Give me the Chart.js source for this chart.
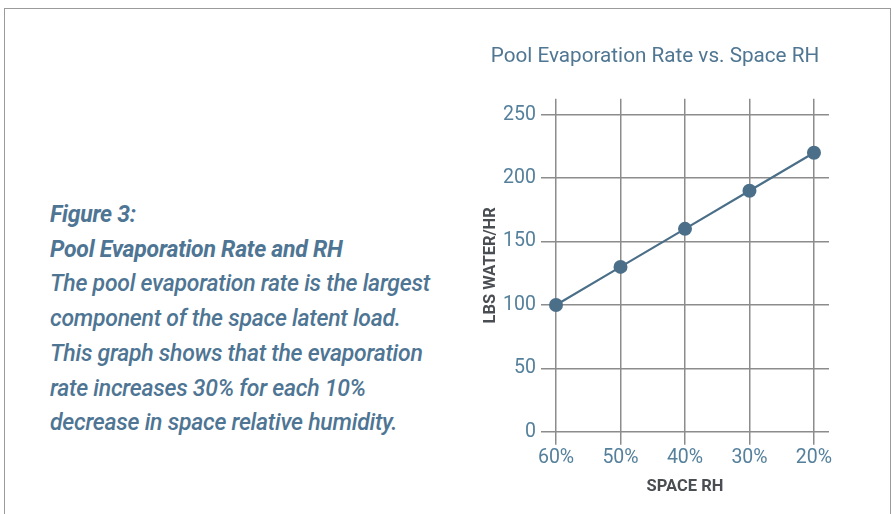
<!DOCTYPE html>
<html>
<head>
<meta charset="utf-8">
<script src="https://cdn.jsdelivr.net/npm/chart.js@4.4.1/dist/chart.umd.min.js"></script>
<style>
  html, body { margin: 0; padding: 0; background: #fff; }
  body { width: 893px; height: 514px; position: relative; overflow: hidden; font-family: Roboto, "Noto Sans", sans-serif; }
  .frame { position: absolute; left: 4px; top: 8px; width: 885px; height: 520px;
           border: 1.5px solid #9b9b9b; border-bottom: none; }
  .caption { position: absolute; left: 50px; top: 198px; color: #4e7593;
             font-style: italic; font-size: 23px; line-height: 34.7px; letter-spacing: -0.25px; }
  .caption b { font-weight: 700; }
  .caption span { font-weight: 500; }
  .wrap { position: absolute; left: 481px; top: 30px; width: 359px; height: 480px; }
</style>
</head>
<body>
<div class="frame"></div>
<div class="caption">
  <b>Figure 3:</b><br>
  <b>Pool Evaporation Rate and RH</b><br>
  <span>The pool evaporation rate is the largest<br>
  component of the space latent load.<br>
  This graph shows that the evaporation<br>
  rate increases 30% for each 10%<br>
  decrease in space relative humidity.</span>
</div>
<div class="wrap"><canvas id="chart"></canvas></div>
<script>
const spaceRH = [60, 50, 40, 30, 20]
const evapRate = [100, 130, 160, 190, 220]
const yTicks = [0, 50, 100, 150, 200, 250]

const blue = '#4b6f88'
const tickBlue = '#55809c'
const gridGray = '#8c8c8c'

const ctx = document.getElementById('chart')
const chartInstance = new Chart(ctx, {
  type: 'line',
  data: {
    datasets: [{
      label: 'Evaporation rate',
      data: spaceRH.map((rh, i) => ({ x: rh, y: evapRate[i] })),
      borderColor: blue,
      backgroundColor: blue,
      borderWidth: 2.2,
      pointRadius: 7,
      pointHoverRadius: 7,
      pointBorderWidth: 0
    }]
  },
  options: {
    responsive: true,
    maintainAspectRatio: false,
    animation: false,
    layout: { padding: { left: 0, right: 11, top: 0, bottom: 13 } },
    plugins: {
      legend: { display: false },
      tooltip: { enabled: false },
      title: {
        display: true,
        text: 'Pool Evaporation Rate vs. Space RH',
        color: '#4f7692',
        font: { family: 'Roboto', size: 20.7, weight: 'normal' },
        padding: { top: 14, bottom: 30 }
      }
    },
    scales: {
      x: {
        type: 'linear',
        reverse: true,
        min: 17.67,
        max: 62.33,
        afterBuildTicks: scale => { scale.ticks = spaceRH.map(v => ({ value: v })) },
        grid: { color: gridGray, lineWidth: 1.5, tickLength: 13, drawTicks: true },
        border: { display: false },
        ticks: {
          color: tickBlue,
          font: { family: 'Roboto', size: 19.5 },
          padding: 2,
          maxRotation: 0,
          callback: v => v + '%'
        },
        title: {
          display: true,
          text: 'SPACE RH',
          color: '#4a4d52',
          font: { family: 'Roboto', size: 16.5, weight: 'bold' },
          padding: { top: 5, bottom: 0 }
        }
      },
      y: {
        min: 0,
        max: 262.5,
        afterBuildTicks: scale => { scale.ticks = yTicks.map(v => ({ value: v })) },
        afterFit: scale => { scale.width = 60 },
        grid: { color: gridGray, lineWidth: 1.5, drawTicks: false },
        border: { display: false },
        ticks: {
          color: tickBlue,
          font: { family: 'Roboto', size: 19.5 },
          padding: 5
        },
        title: {
          display: true,
          text: 'LBS WATER/HR',
          color: '#4a4d52',
          font: { family: 'Roboto', size: 16.5, weight: 'bold' },
          padding: { top: 0, bottom: 0 }
        }
      }
    }
  }
})

chartInstance.update()
</script>
</body>
</html>
